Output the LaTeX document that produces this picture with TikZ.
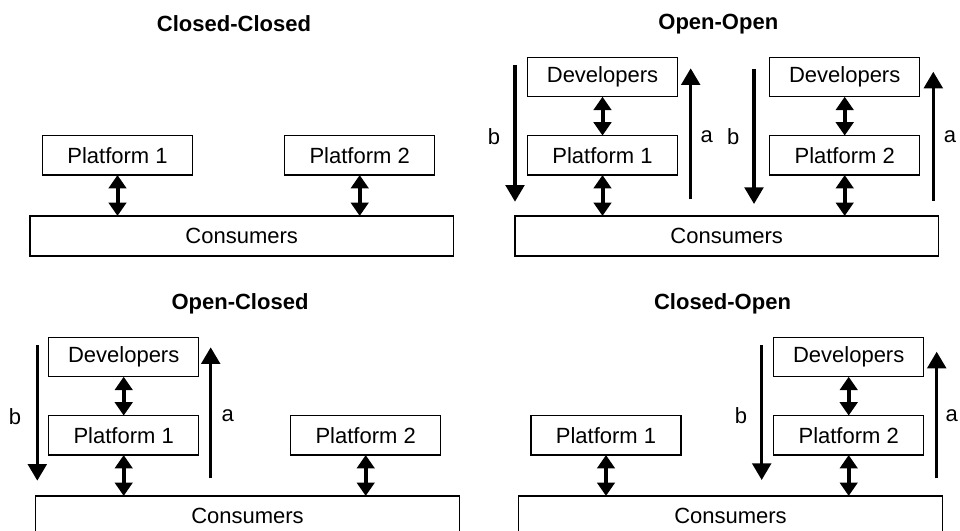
\documentclass[tikz,border=0pt]{standalone}
\usepackage{fontspec}
\setmainfont{Liberation Sans}
\usetikzlibrary{arrows.meta}
\tikzset{
  box/.style={draw, line width=1.1pt, minimum width=112.5pt, minimum height=29.5pt, inner sep=0pt, font=\fontsize{16.5}{19}\selectfont},
  consbox/.style={box, minimum width=317.5pt, minimum height=30pt},
  ttl/.style={font=\fontsize{16.5}{19}\selectfont\bfseries},
  lbl/.style={font=\fontsize{16.5}{19}\selectfont, inner sep=0pt},
  dbl/.style={line width=3pt, {Triangle[width=13pt,length=10pt]}-{Triangle[width=13pt,length=10pt]}, shorten <=-0.5pt, shorten >=-0.5pt},
  flow/.style={line width=2.5pt, -{Triangle[width=14pt,length=12.5pt]}}
}
\begin{document}
\begin{tikzpicture}[x=0.75pt,y=-0.75pt]
\useasboundingbox (0,0) rectangle (960,531);
\clip (0,0) rectangle (960,531);
% Panel 1: Closed-Closed
\node[ttl] (t1) at (234,24) {Closed-Closed};
\node[box] (cc-p1) at (117.5,155.3) {Platform 1};
\node[box] (cc-p2) at (359.7,155.3) {Platform 2};
\node[consbox] (cc-c) at (241.7,236) {Consumers};
\draw[dbl] (cc-p1.south) -- (cc-p1.south |- cc-c.north);
\draw[dbl] (cc-p2.south) -- (cc-p2.south |- cc-c.north);
% Panel 2: Open-Open
\node[ttl] (t2) at (718.3,24) {Open-Open};
\node[box] (oo-d1) at (602.5,77) {Developers};
\node[box] (oo-p1) at (602.5,155.3) {Platform 1};
\node[box] (oo-d2) at (844.7,77) {Developers};
\node[box] (oo-p2) at (844.7,155.3) {Platform 2};
\node[consbox] (oo-c) at (726.7,236) {Consumers};
\draw[dbl] (oo-d1.south) -- (oo-p1.north);
\draw[dbl] (oo-p1.south) -- (oo-p1.south |- oo-c.north);
\draw[dbl] (oo-d2.south) -- (oo-p2.north);
\draw[dbl] (oo-p2.south) -- (oo-p2.south |- oo-c.north);
\coordinate (oo-b1s) at (515,65);
\coordinate (oo-b1e) at (515,201.7);
\coordinate (oo-a1s) at (690.7,199.3);
\coordinate (oo-a1e) at (690.7,68.3);
\coordinate (oo-b2s) at (754,69);
\coordinate (oo-b2e) at (754,204);
\coordinate (oo-a2s) at (933.3,200.7);
\coordinate (oo-a2e) at (933.3,71.7);
\draw[flow] (oo-b1s) -- (oo-b1e);
\draw[flow] (oo-a1s) -- (oo-a1e);
\draw[flow] (oo-b2s) -- (oo-b2e);
\draw[flow] (oo-a2s) -- (oo-a2e);
\node[lbl] (oo-lb1) at (494,136.7) {b};
\node[lbl] (oo-la1) at (706.7,136.7) {a};
\node[lbl] (oo-lb2) at (733.3,136.7) {b};
\node[lbl] (oo-la2) at (950,136.7) {a};
% Panel 3: Open-Closed
\node[ttl] (t3) at (240,304) {Open-Closed};
\node[box] (oc-d) at (123.7,357) {Developers};
\node[box] (oc-p1) at (123.7,435.3) {Platform 1};
\node[box] (oc-p2) at (365.7,435.3) {Platform 2};
\node[consbox, minimum width=317.7pt] (oc-c) at (247.5,516) {Consumers};
\draw[dbl] (oc-d.south) -- (oc-p1.north);
\draw[dbl] (oc-p1.south) -- (oc-p1.south |- oc-c.north);
\draw[dbl] (oc-p2.south) -- (oc-p2.south |- oc-c.north);
\coordinate (oc-bs) at (37.3,345);
\coordinate (oc-be) at (37.3,480.7);
\coordinate (oc-as) at (210.7,478.3);
\coordinate (oc-ae) at (210.7,347.3);
\draw[flow] (oc-bs) -- (oc-be);
\draw[flow] (oc-as) -- (oc-ae);
\node[lbl] (oc-lb) at (15,416.7) {b};
\node[lbl] (oc-la) at (227.7,415.7) {a};
% Panel 4: Closed-Open
\node[ttl] (t4) at (722.5,304) {Closed-Open};
\node[box] (co-p1) at (606,435.3) {Platform 1};
\node[box] (co-d) at (848.7,357) {Developers};
\node[box] (co-p2) at (848.7,435.3) {Platform 2};
\node[consbox, minimum width=318.3pt] (co-c) at (730.5,516) {Consumers};
\draw[dbl] (co-p1.south) -- (co-p1.south |- co-c.north);
\draw[dbl] (co-d.south) -- (co-p2.north);
\draw[dbl] (co-p2.south) -- (co-p2.south |- co-c.north);
\coordinate (co-bs) at (761.7,345);
\coordinate (co-be) at (761.7,480);
\coordinate (co-as) at (936.7,478.3);
\coordinate (co-ae) at (936.7,351.7);
\draw[flow] (co-bs) -- (co-be);
\draw[flow] (co-as) -- (co-ae);
\node[lbl] (co-lb) at (741,415.7) {b};
\node[lbl] (co-la) at (951.7,415.7) {a};
\end{tikzpicture}
\end{document}
